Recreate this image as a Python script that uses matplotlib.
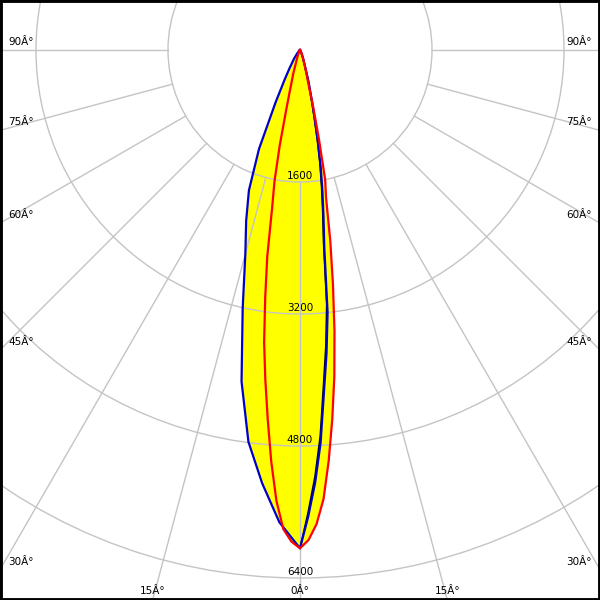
import numpy as np
import matplotlib
matplotlib.use("Agg")
import matplotlib.pyplot as plt
import matplotlib.patches as patches

# Intensity (cd) vs gamma angle (deg from nadir)
gamma_blue_left = [0, 2.5, 5, 7.5, 10, 12.5, 15, 17.5, 20, 22.5, 25, 27.5, 30, 35, 40, 45, 50, 60, 90]
cd_blue_left = [6040, 5730, 5270, 4790, 4080, 3210, 2560, 2170, 1810, 1300, 700, 400, 250, 120, 50, 20, 10, 0, 0]

gamma_blue_right = [0, 1, 2, 3, 4, 5, 6, 7, 8, 9, 10, 11, 12, 13, 15, 17.5, 20, 25, 30, 40, 90]
cd_blue_right = [6040, 5660, 5250, 4770, 4160, 3690, 3200, 2420, 2050, 1740, 1450, 1150, 870, 660, 410, 190, 110, 40, 15, 0, 0]
cd_black_right = [6040, 5610, 5180, 4690, 4080, 3600, 3100, 2340, 1980, 1670, 1390, 1090, 820, 620, 380, 170, 100, 35, 12, 0, 0]

gamma_red = [0, 1, 2, 3, 4, 5, 6, 7, 8, 9, 10, 11, 12, 13, 14, 16, 20, 25, 30, 40, 90]
cd_red_left = [6040, 5960, 5810, 5470, 5000, 4490, 4020, 3570, 3030, 2540, 1950, 1620, 1180, 740, 500, 290, 100, 40, 10, 0, 0]
cd_red_right = [6040, 5940, 5750, 5450, 4990, 4490, 3980, 3430, 2870, 2350, 1820, 1600, 1100, 720, 420, 250, 110, 50, 20, 0, 0]

rings = [1600, 3200, 4800, 6400]
spoke_angles = [-90, -75, -60, -45, -30, -15, 0, 15, 30, 45, 60, 75, 90]

k = 1600 / 132.0          # cd per pixel
half_w = 300 * k
top = 50 * k
bottom = 550 * k


def to_xy(gamma, cd, side):
    g = np.radians(np.asarray(gamma, dtype=float))
    r = np.asarray(cd, dtype=float)
    return side * r * np.sin(g), -r * np.cos(g)


def closed_curve(g_left, i_left, g_right, i_right):
    xl, yl = to_xy(g_left, i_left, -1)
    xr, yr = to_xy(g_right, i_right, 1)
    x = np.concatenate([xl[::-1], xr])
    y = np.concatenate([yl[::-1], yr])
    return x, y


fig = plt.figure(figsize=(6, 6), dpi=100)
ax = fig.add_axes([0, 0, 1, 1])
ax.set_xlim(-half_w, half_w)
ax.set_ylim(-bottom, top)
ax.set_aspect('equal', adjustable='box')
ax.set_xticks([])
ax.set_yticks([])
for s in ax.spines.values():
    s.set_color('black')
    s.set_linewidth(3.5)

xb, yb = closed_curve(gamma_blue_left, cd_blue_left, gamma_blue_right, cd_blue_right)
xr, yr = closed_curve(gamma_red, cd_red_left, gamma_red, cd_red_right)
ax.fill(xb, yb, color='#ffff00', lw=0, zorder=1)
ax.fill(xr, yr, color='#ffff00', lw=0, zorder=1)

# grid
grid_c = '#c4c4c4'
for r in rings:
    ax.add_patch(patches.Circle((0, 0), r, fill=False, ec=grid_c, lw=1, zorder=2))
for a in spoke_angles:
    t = np.radians(a)
    ax.plot([rings[0] * np.sin(t), 12000 * np.sin(t)],
            [-rings[0] * np.cos(t), -12000 * np.cos(t)],
            color=grid_c, lw=1, zorder=2)

# curves
ax.plot(xb, yb, color='#0000cc', lw=1.6, zorder=4)
xk, yk = to_xy(gamma_blue_right, cd_black_right, 1)
ax.plot(xk, yk, color='black', lw=1.2, zorder=3)
ax.plot(xr, yr, color='#ff0000', lw=1.6, zorder=5)

fs = 7.5
for r in rings:
    ax.annotate(str(r), xy=(0, -r), xytext=(0, 1), textcoords='offset pixels',
                ha='center', va='bottom', fontsize=fs, zorder=6)

# angle labels where the spokes meet the frame
for a in spoke_angles:
    t = np.radians(abs(a))
    side = np.sign(a)
    t_side = half_w / np.sin(t) if a != 0 else np.inf
    t_bot = bottom / np.cos(t) if abs(a) != 90 else np.inf
    label = f"{abs(a)}Â°"
    if t_side < t_bot:
        y = -t_side * np.cos(t)
        x = side * half_w
        ha = 'left' if side < 0 else 'right'
        ax.annotate(label, xy=(x, y), xytext=(-8 * side, 8), textcoords='offset pixels',
                    ha=ha, va='center', fontsize=fs, zorder=6)
    else:
        x = side * t_bot * np.sin(t) if a != 0 else 0
        ax.annotate(label, xy=(x, -bottom), xytext=(0, 4), textcoords='offset pixels',
                    ha='center', va='bottom', fontsize=fs, zorder=6)

fig.savefig('out.png', dpi=100)
